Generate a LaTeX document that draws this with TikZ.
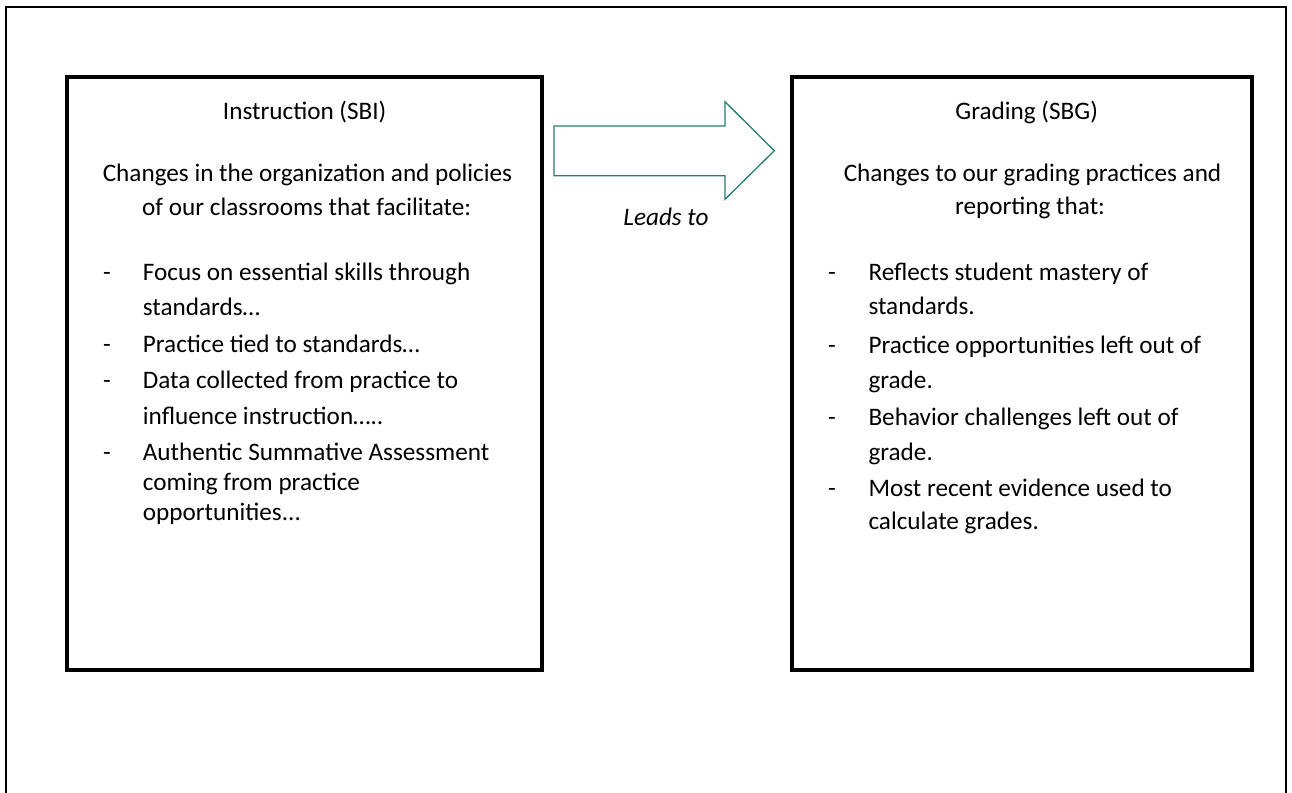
\documentclass[tikz,border=0pt]{standalone}
\usepackage{fontspec}
\setmainfont{Carlito}
\definecolor{arrowteal}{RGB}{38,125,115}
\begin{document}
\begin{tikzpicture}[x=1pt,y=-1pt,
  frame/.style={draw=black, line width=2pt},
  panel/.style={draw=black, line width=4pt, inner sep=0pt},
  txt/.style={inner sep=0pt, font=\fontsize{25.2}{30}\selectfont},
  mid/.style={txt, anchor=base},
  left/.style={txt, anchor=base west},
  blockarrow/.style={draw=arrowteal, line width=1.3pt, line join=miter}]
\useasboundingbox (0,0) rectangle (1292,792);

% page frame, running off the lower edge
\draw[frame] (6,800) -- (6,6.7) -- (1286,6.7) -- (1286,800);

% the two panels
\node[panel, minimum width=475pt, minimum height=593pt] (sbi) at (304.5,373.5) {};
\node[panel, minimum width=460pt, minimum height=593pt] (sbg) at (1022,373.5) {};

% block arrow between the panels
\coordinate (a1) at (554,126);
\coordinate (a2) at (725,126);
\coordinate (a3) at (725,101.7);
\coordinate (a4) at (774.3,150.7);
\coordinate (a5) at (725,199.3);
\coordinate (a6) at (725,175.7);
\coordinate (a7) at (554,175.7);
\draw[blockarrow] (a1) -- (a2) -- (a3) -- (a4) -- (a5) -- (a6) -- (a7) -- cycle;
\node[mid, font=\fontsize{25.2}{30}\selectfont\itshape] (leads) at (666,225) {Leads to};

% left panel text
\node[mid] (l0) at (304.7,119) {Instruction (SBI)};
\node[mid] (l1) at (307.5,181) {Changes in the organization and policies};
\node[left] (l2) at (142,215) {of our classrooms that facilitate:};
\node[left] (ld1) at (103,280) {-};
\node[left] (l3) at (142.7,280) {Focus on essential skills through};
\node[left] (l4) at (142.7,315) {standards…};
\node[left] (ld2) at (103,352) {-};
\node[left] (l5) at (142.7,352) {Practice tied to standards…};
\node[left] (ld3) at (103,388) {-};
\node[left] (l6) at (142.7,388) {Data collected from practice to};
\node[left] (l7) at (142.7,424) {influence instruction…..};
\node[left] (ld4) at (103,460) {-};
\node[left] (l8) at (142.7,460) {Authentic Summative Assessment};
\node[left] (l9) at (142.7,490) {coming from practice};
\node[left] (l10) at (142.7,520) {opportunities...};

% right panel text
\node[mid] (r0) at (1026.7,119) {Grading (SBG)};
\node[mid] (r1) at (1032.5,181) {Changes to our grading practices and};
\node[mid] (r2) at (1030,214) {reporting that:};
\node[left] (rd1) at (828,280) {-};
\node[left] (r3) at (868.3,280) {Reflects student mastery of};
\node[left] (r4) at (868.3,314) {standards.};
\node[left] (rd2) at (828,353) {-};
\node[left] (r5) at (868.3,353) {Practice opportunities left out of};
\node[left] (r6) at (868.3,388) {grade.};
\node[left] (rd3) at (828,425) {-};
\node[left] (r7) at (868.3,425) {Behavior challenges left out of};
\node[left] (r8) at (868.3,460) {grade.};
\node[left] (rd4) at (828,496) {-};
\node[left] (r9) at (868.3,496) {Most recent evidence used to};
\node[left] (r10) at (868.3,529) {calculate grades.};
\end{tikzpicture}
\end{document}
